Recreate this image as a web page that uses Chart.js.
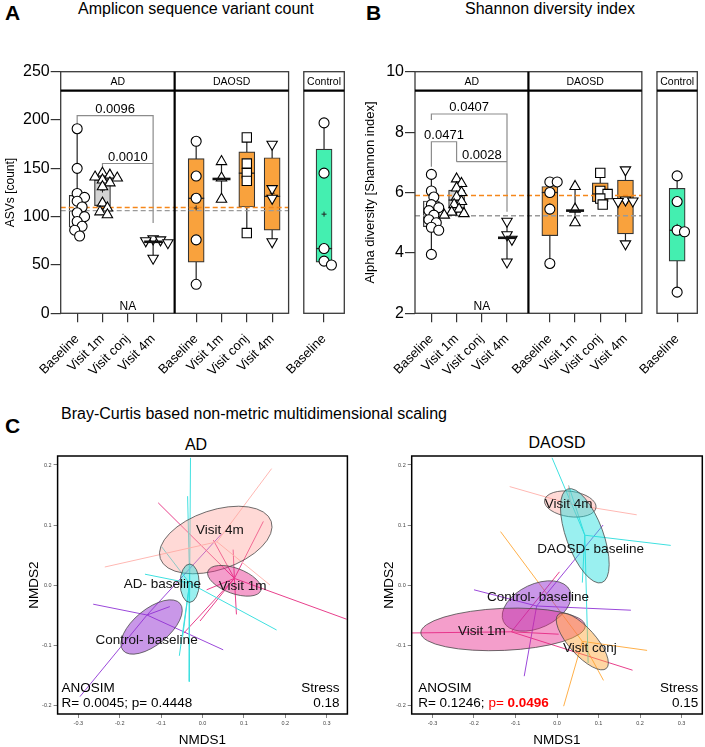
<!DOCTYPE html>
<html>
<head>
<meta charset="utf-8">
<title>ASV, Shannon and NMDS</title>
<script src="https://cdn.jsdelivr.net/npm/chart.js@4.4.1/dist/chart.umd.min.js"></script>
<style>
  body { margin: 0; background: #fff; }
  #fig { position: relative; width: 705px; height: 747px; overflow: hidden; font-family: 'Liberation Sans', Arial, sans-serif; color: #000; }
  #fig canvas { position: absolute; }
  .t { position: absolute; white-space: nowrap; line-height: 1; }
  .c { transform: translateX(-50%); }
  .letter { font-size: 21px; font-weight: bold; }
  .title { font-size: 16px; }
</style>
</head>
<body>
<div id="fig">
  <div class="t letter" style="left:5px;top:2px">A</div>
  <div class="t title" style="left:78px;top:1px">Amplicon sequence variant count</div>
  <div class="t letter" style="left:366px;top:2px">B</div>
  <div class="t title" style="left:465px;top:1px">Shannon diversity index</div>
  <div class="t letter" style="left:5px;top:415px">C</div>
  <div class="t title" style="left:61px;top:406px">Bray-Curtis based non-metric multidimensional scaling</div>
  <div class="t c" style="left:196px;top:437px;font-size:16px">AD</div>
  <div class="t c" style="left:557px;top:435px;font-size:16px">DAOSD</div>
  <canvas id="asv" width="352" height="380" style="left:0;top:0"></canvas>
  <canvas id="shannon" width="353" height="380" style="left:352px;top:0"></canvas>
  <canvas id="nmdsAD" width="352" height="317" style="left:0;top:430px"></canvas>
  <canvas id="nmdsDAOSD" width="353" height="317" style="left:352px;top:430px"></canvas>
</div>
<script>
// ---------- data: panels A and B ----------
const categories = ['Baseline', 'Visit 1m', 'Visit conj', 'Visit 4m', 'Baseline', 'Visit 1m', 'Visit conj', 'Visit 4m', 'Baseline'];
const facets = ['AD', 'DAOSD', 'Control'];

const asvTicks = [0, 50, 100, 150, 200, 250];
const asvPoints = [
  [191, 150, 124, 120, 116, 110, 104, 100, 95, 90, 86, 80],
  [145, 143, 141, 140, 138, 135, 131, 114, 109, 105, 102],
  [],
  [77, 76, 75, 73, 57],
  [178, 142, 119, 76, 30],
  [157, 140, 118],
  [182, 155, 145, 137, 83],
  [175, 129, 119, 74],
  [197, 145, 67, 54, 50]
];
// [q1, median, q3]; null quartiles = median line only
const asvBoxes = [[89, 106, 122], [111.5, 138, 143], null, [null, 74, null], [53, 119, 160], [null, 139, null], [110, 145, 167], [86, 121, 161], [53, 67, 170]];
const asvRefLines = [109.5, 106.2];
const asvBrackets = [
  { from: 0, to: 3, y: 204.6, yFrom: 196, yTo: 93.5, label: '0.0096' },
  { from: 1, to: 3, y: 155, yFrom: 147, yTo: 155, label: '0.0010' }
];

const shannonTicks = [2, 4, 6, 8, 10];
const shannonPoints = [
  [6.6, 6.05, 5.85, 5.6, 5.5, 5.4, 5.25, 5.1, 5.0, 4.85, 4.75, 3.95],
  [6.45, 6.3, 6.15, 6.0, 5.85, 5.7, 5.6, 5.45, 5.35, 5.3, 5.25],
  [],
  [5.05, 4.6, 4.45, 3.7],
  [6.35, 6.35, 6.0, 5.45, 3.65],
  [6.2, 5.45, 5.0],
  [6.65, 6.05, 5.95, 5.8, 5.6],
  [6.75, 5.75, 5.72, 5.7, 4.3],
  [6.55, 5.7, 4.75, 4.7, 2.7]
];
const shannonBoxes = [[4.87, 5.35, 5.72], [5.48, 5.75, 6.08], null, [null, 4.5, null], [4.57, 6.0, 6.2], [null, 5.4, null], [5.7, 5.95, 6.32], [4.63, 5.75, 6.41], [3.73, 4.75, 6.14]];
const shannonRefLines = [5.9, 5.23];
const shannonBrackets = [
  { from: 0, to: 3, y: 8.6, yFrom: 8.4, yTo: 5.36, label: '0.0407' },
  { from: 0, to: 1, y: 7.68, yFrom: 6.85, yTo: 7.02, label: '0.0471' },
  { from: 1, to: 3, y: 7.02, yFrom: 7.02, yTo: 7.02, label: '0.0028' }
];

// ---------- data: panel C ----------
const nmdsTicksX = [-0.3, -0.2, -0.1, 0, 0.1, 0.2, 0.3];
const nmdsTicksY = [-0.2, -0.1, 0, 0.1, 0.2];

const adGroups = ['Visit 4m', 'AD- baseline', 'Visit 1m', 'Control- baseline'];
const adCentres = [[0.032, 0.075], [-0.031, 0.003], [0.077, 0.007], [-0.123, -0.070]];
const adAxisU = [[0.134, 0.031], [0, 0.032], [0.064, -0.016], [0.069, 0.039]];
const adAxisV = [[0.023, -0.047], [0.023, 0], [-0.010, -0.020], [0.027, -0.023]];
const adHubs = [[0.035, 0.072], [-0.031, 0.003], [0.077, 0.011], [-0.134, -0.050]];
const adSamples = [
  [[0.167, 0.194], [-0.236, 0.030], [0.163, 0.0]],
  [[-0.029, 0.212], [-0.036, 0.148], [-0.032, -0.161], [-0.099, 0.064], [-0.139, 0.018], [0.179, -0.075], [-0.056, -0.118], [-0.048, -0.086]],
  [[-0.107, 0.137], [0.026, 0.075], [0.147, 0.106], [0.074, 0.059], [0.348, -0.057], [0.082, -0.049], [-0.006, -0.060], [-0.045, -0.080], [0.010, -0.008]],
  [[0.046, 0.085], [-0.264, -0.032], [0.050, -0.108], [-0.296, -0.186], [-0.079, -0.036]]
];
const adLabelAt = [[0.042, 0.092], [-0.097, 0.002], [0.097, -0.002], [-0.135, -0.092]];
const adAnosim = [0.0045, 0.4448];
const adStress = 0.18;

const daosdGroups = ['Visit 4m', 'DAOSD- baseline', 'Control- baseline', 'Visit 1m', 'Visit conj'];
const daosdCentres = [[0.032, 0.135], [0.067, 0.082], [-0.049, -0.035], [-0.130, -0.074], [0.061, -0.094]];
const daosdAxisU = [[0.062, -0.006], [0.041, -0.078], [0.080, 0.026], [0.198, 0.006], [0.058, -0.045]];
const daosdAxisV = [[-0.004, -0.021], [0.042, 0.010], [0.022, -0.033], [0.003, -0.035], [0.024, 0.015]];
const daosdHubs = [[0.032, 0.135], [0.067, 0.083], [-0.049, -0.035], [-0.110, -0.078], [0.061, -0.094]];
const daosdSamples = [
  [[-0.114, 0.164], [0.192, 0.117], [0.028, 0.166]],
  [[-0.012, 0.212], [0.274, 0.066], [0.075, -0.130], [0.028, 0.166], [0.061, 0.004]],
  [[-0.200, -0.008], [0.111, 0.100], [0.178, -0.042], [-0.079, -0.152]],
  [[-0.36, -0.080], [0.182, -0.142], [0.006, 0.022], [0.004, -0.082]],
  [[-0.136, 0.089], [0.217, -0.109], [0.112, -0.159], [0.016, -0.202]]
];
const daosdLabelAt = [[0.028, 0.135], [0.081, 0.059], [-0.046, -0.020], [-0.181, -0.077], [0.079, -0.106]];
const daosdAnosim = [0.1246, 0.0496];
const daosdStress = 0.15;

// ---------- layout & style ----------
const FONT = "'Liberation Sans', Arial, sans-serif";
Chart.defaults.font.family = FONT;
Chart.defaults.color = '#000';
Chart.defaults.animation = false;
Chart.defaults.responsive = false;
Chart.defaults.plugins.legend.display = false;
Chart.defaults.plugins.tooltip.enabled = false;

const catPos = [1, 2, 3, 4, 5.7, 6.7, 7.7, 8.7, 10.75];
const facetSpan = [[0.35, 4.85], [4.85, 9.35], [9.95, 11.55]];
const boxFill = ['#ffffff', '#d4d4d4', null, null, '#f9a23d', '#f9a23d', '#f9a23d', '#f9a23d', '#44efb0'];
const markerStyle = ['circle', 'triangle', 'rect', 'triangle'];
const markerRot = [0, 0, 0, 180];
const markerSize = [5, 6, 6.6, 6];
const refColors = ['#f5871a', '#9a9a9a'];

const colVisit4m = ['#ffb8b3', 'rgba(255,165,158,0.42)'];
const colCyan = ['#3fe0e0', 'rgba(30,222,222,0.45)'];
const colMagenta = ['#e8408c', 'rgba(230,40,140,0.45)'];
const colPurple = ['#9b48da', 'rgba(148,48,210,0.5)'];
const colOrange = ['#ffb04a', 'rgba(255,165,50,0.45)'];

// simple beeswarm offsets (in x units) so overlapping points spread sideways
function swarm(vals, pxPerUnit) {
  const placed = [];
  return vals.map(v => {
    const py = v * pxPerUnit;
    let off = 0;
    for (let k = 0; k < 14; k++) {
      const cand = (k % 2 ? 1 : -1) * Math.ceil(k / 2) * 2.5;
      if (placed.every(p => Math.hypot(p.x - cand, p.y - py) >= 6.5)) { off = cand; break; }
    }
    placed.push({ x: off, y: py });
    return off / 25.7;
  });
}

function boxChart(id, o) {
  const boxData = [], boxColors = [];
  o.boxes.forEach((b, i) => {
    if (b && b[0] !== null) {
      boxData.push({ x: catPos[i], y: [b[0], b[2]] });
      boxColors.push(boxFill[i]);
    }
  });
  const datasets = [{
    type: 'bar', data: boxData, backgroundColor: boxColors, borderColor: '#333',
    borderWidth: 1.2, borderSkipped: false, barThickness: 16, order: 3
  }];
  o.points.forEach((pts, i) => {
    if (!pts.length) return;
    const off = swarm(pts, o.pxPerUnit);
    datasets.push({
      type: 'scatter', order: 1,
      data: pts.map((v, j) => ({ x: catPos[i] + off[j], y: v })),
      pointStyle: markerStyle[i % 4], pointRotation: markerRot[i % 4], pointRadius: markerSize[i % 4],
      pointBackgroundColor: '#fff', pointBorderColor: '#000', pointBorderWidth: 1.1
    });
  });

  const deco = {
    id: 'deco',
    beforeDatasetsDraw(chart) {
      const { ctx, chartArea, scales: { x, y } } = chart;
      ctx.save();
      ctx.strokeStyle = '#222';
      ctx.lineWidth = 1.2;
      o.points.forEach((pts, i) => {
        if (!pts.length) return;
        const px = x.getPixelForValue(catPos[i]);
        ctx.beginPath();
        ctx.moveTo(px, y.getPixelForValue(Math.min(...pts)));
        ctx.lineTo(px, y.getPixelForValue(Math.max(...pts)));
        ctx.stroke();
      });
      ctx.strokeStyle = '#8c8c8c';
      ctx.fillStyle = '#000';
      ctx.font = '13px ' + FONT;
      ctx.textAlign = 'center';
      ctx.textBaseline = 'alphabetic';
      o.brackets.forEach(b => {
        const x1 = x.getPixelForValue(catPos[b.from]), x2 = x.getPixelForValue(catPos[b.to]);
        const yy = y.getPixelForValue(b.y);
        ctx.beginPath();
        ctx.moveTo(x1, y.getPixelForValue(b.yFrom));
        ctx.lineTo(x1, yy);
        ctx.lineTo(x2, yy);
        ctx.lineTo(x2, y.getPixelForValue(b.yTo));
        ctx.stroke();
        ctx.fillText(b.label, (x1 + x2) / 2, yy - 3);
      });
      ctx.font = '12px ' + FONT;
      ctx.textBaseline = 'middle';
      ctx.fillText('NA', x.getPixelForValue(catPos[2]), chartArea.bottom - 7);
      ctx.restore();
    },
    afterDatasetDraw(chart, args) {
      if (args.meta.type !== 'bar') return;
      const { ctx, scales: { x, y } } = chart;
      ctx.save();
      ctx.strokeStyle = '#222';
      ctx.lineWidth = 1.3;
      o.boxes.forEach((b, i) => {
        if (!b || b[0] === null) return;
        const px = x.getPixelForValue(catPos[i]), py = y.getPixelForValue(b[1]);
        ctx.beginPath(); ctx.moveTo(px - 8, py); ctx.lineTo(px + 8, py); ctx.stroke();
        const pts = o.points[i];
        const mean = pts.reduce((s, v) => s + v, 0) / pts.length;
        const my = y.getPixelForValue(mean);
        ctx.lineWidth = 1;
        ctx.beginPath();
        ctx.moveTo(px - 2.5, my); ctx.lineTo(px + 2.5, my);
        ctx.moveTo(px, my - 2.5); ctx.lineTo(px, my + 2.5);
        ctx.stroke();
        ctx.lineWidth = 1.3;
      });
      ctx.lineWidth = 1.4;
      ctx.setLineDash([5, 3]);
      o.refLines.forEach((v, k) => {
        ctx.strokeStyle = refColors[k];
        const py = y.getPixelForValue(v);
        ctx.beginPath();
        ctx.moveTo(x.getPixelForValue(facetSpan[0][0]), py);
        ctx.lineTo(x.getPixelForValue(facetSpan[1][1]), py);
        ctx.stroke();
      });
      ctx.restore();
    },
    afterDatasetsDraw(chart) {
      const { ctx, scales: { x, y } } = chart;
      ctx.save();
      ctx.strokeStyle = '#111';
      ctx.lineWidth = 2.6;
      o.boxes.forEach((b, i) => {
        if (!b || b[0] !== null) return;
        const px = x.getPixelForValue(catPos[i]), py = y.getPixelForValue(b[1]);
        ctx.beginPath(); ctx.moveTo(px - 9, py); ctx.lineTo(px + 9, py); ctx.stroke();
      });
      ctx.restore();
    },
    afterDraw(chart) {
      const { ctx, chartArea: { top, bottom }, scales: { x } } = chart;
      const X = v => x.getPixelForValue(v);
      const stripH = 19;
      ctx.save();
      ctx.strokeStyle = '#3a3a3a';
      ctx.lineWidth = 1.3;
      ctx.strokeRect(X(facetSpan[0][0]), top, X(facetSpan[1][1]) - X(facetSpan[0][0]), bottom - top);
      ctx.strokeRect(X(facetSpan[2][0]), top, X(facetSpan[2][1]) - X(facetSpan[2][0]), bottom - top);
      ctx.strokeStyle = '#000';
      ctx.lineWidth = 2.2;
      ctx.beginPath();
      ctx.moveTo(X(facetSpan[0][1]), top); ctx.lineTo(X(facetSpan[0][1]), bottom);
      ctx.moveTo(X(facetSpan[0][0]), top + stripH); ctx.lineTo(X(facetSpan[1][1]), top + stripH);
      ctx.moveTo(X(facetSpan[2][0]), top + stripH); ctx.lineTo(X(facetSpan[2][1]), top + stripH);
      ctx.stroke();
      ctx.fillStyle = '#000';
      ctx.font = '10.5px ' + FONT;
      ctx.textAlign = 'center';
      ctx.textBaseline = 'middle';
      facets.forEach((f, k) => {
        ctx.fillText(f, (X(facetSpan[k][0]) + X(facetSpan[k][1])) / 2, top + stripH / 2 + 0.5);
      });
      ctx.restore();
    }
  };

  return new Chart(document.getElementById(id), {
    type: 'scatter',
    data: { datasets },
    options: {
      layout: { padding: { left: o.padL, right: o.padR, top: 71.7, bottom: 0 } },
      scales: {
        x: {
          type: 'linear', offset: false, min: facetSpan[0][0], max: facetSpan[2][1],
          afterBuildTicks: s => { s.ticks = catPos.map(v => ({ value: v })); },
          ticks: { autoSkip: false, minRotation: 45, maxRotation: 45, font: { size: 13 }, color: '#000', padding: 9,
                   callback: (v, i) => categories[i] },
          grid: { display: true, offset: false, drawOnChartArea: false, drawTicks: true, tickLength: 9, color: '#333', lineWidth: 1.2 },
          border: { display: false },
          afterFit: s => { s.height = 66.7; s.paddingLeft = 0; s.paddingRight = 0; }
        },
        y: {
          min: o.ticks[0], max: o.ticks[o.ticks.length - 1],
          afterBuildTicks: s => { s.ticks = o.ticks.map(v => ({ value: v })); },
          ticks: { font: { size: 16 }, color: '#000', padding: 1 },
          grid: { display: true, drawOnChartArea: false, drawTicks: true, tickLength: 10, color: '#333', lineWidth: 1.2 },
          border: { display: false },
          title: { display: true, text: o.yTitle, font: { size: o.yTitleSize, lineHeight: 1 }, padding: 0, color: '#000' },
          afterFit: s => { s.width = o.yW; }
        }
      }
    },
    plugins: [deco]
  });
}

function nmdsChart(id, o) {
  const datasets = o.groups.map((n, g) => ({
    type: 'scatter', showLine: true, spanGaps: false, pointRadius: 0, borderWidth: 1,
    borderColor: o.colors[g][0], tension: 0,
    data: o.samples[g].flatMap(p => [{ x: o.hubs[g][0], y: o.hubs[g][1] }, { x: p[0], y: p[1] }, { x: null, y: null }])
  }));

  const deco = {
    id: 'nmdsdeco',
    afterDatasetsDraw(chart) {
      const { ctx, chartArea: a, scales: { x, y } } = chart;
      ctx.save();
      ctx.beginPath();
      ctx.rect(a.left, a.top, a.width, a.height);
      ctx.clip();
      o.groups.forEach((n, g) => {
        const [cx, cy] = o.centres[g], [ux, uy] = o.axisU[g], [vx, vy] = o.axisV[g];
        const px = x.getPixelForValue(cx), py = y.getPixelForValue(cy);
        ctx.save();
        ctx.translate(px, py);
        ctx.transform(x.getPixelForValue(cx + ux) - px, y.getPixelForValue(cy + uy) - py,
                      x.getPixelForValue(cx + vx) - px, y.getPixelForValue(cy + vy) - py, 0, 0);
        ctx.beginPath();
        ctx.arc(0, 0, 1, 0, Math.PI * 2);
        ctx.restore();
        ctx.fillStyle = o.colors[g][1];
        ctx.fill();
        ctx.strokeStyle = '#4a4a4a';
        ctx.lineWidth = 0.8;
        ctx.stroke();
      });
      ctx.fillStyle = '#111';
      ctx.font = '13.5px ' + FONT;
      ctx.textAlign = 'center';
      ctx.textBaseline = 'middle';
      o.groups.forEach((n, g) => {
        ctx.fillText(n, x.getPixelForValue(o.labelAt[g][0]), y.getPixelForValue(o.labelAt[g][1]));
      });
      ctx.restore();
    },
    afterDraw(chart) {
      const { ctx, chartArea: a } = chart;
      ctx.save();
      ctx.strokeStyle = '#000';
      ctx.lineWidth = 1.5;
      ctx.strokeRect(a.left, a.top, a.width, a.height);
      const f = '13.5px ' + FONT;
      ctx.font = f;
      ctx.fillStyle = '#000';
      ctx.textBaseline = 'middle';
      ctx.textAlign = 'left';
      ctx.fillText('ANOSIM', a.left + o.inL, a.bottom - 26);
      let tx = a.left + o.inL;
      const ty = a.bottom - 11;
      const rText = 'R= ' + o.anosim[0].toFixed(4) + '; ';
      ctx.fillText(rText, tx, ty);
      tx += ctx.measureText(rText).width;
      const sig = o.anosim[1] < 0.05;
      if (sig) ctx.fillStyle = '#ff0000';
      ctx.fillText('p= ', tx, ty);
      tx += ctx.measureText('p= ').width;
      if (sig) ctx.font = 'bold ' + f;
      ctx.fillText(o.anosim[1].toFixed(4), tx, ty);
      ctx.font = f;
      ctx.fillStyle = '#000';
      ctx.textAlign = 'right';
      ctx.fillText('Stress', a.right - o.inR, a.bottom - 26);
      ctx.fillText(o.stress.toFixed(2), a.right - o.inR, a.bottom - 11);
      ctx.restore();
    }
  };

  const axisCommon = {
    type: 'linear',
    ticks: { font: { size: 5.5 }, color: '#444', padding: 2, autoSkip: false, callback: v => v.toFixed(1) },
    grid: { display: true, drawOnChartArea: false, drawTicks: true, tickLength: 4, color: '#666', lineWidth: 0.8 },
    border: { display: false }
  };

  return new Chart(document.getElementById(id), {
    type: 'scatter',
    data: { datasets },
    options: {
      layout: { padding: { left: o.padL, right: o.padR, top: 26, bottom: 0 } },
      scales: {
        x: Object.assign({}, axisCommon, {
          min: -0.35, max: 0.35,
          afterBuildTicks: s => { s.ticks = nmdsTicksX.map(v => ({ value: v })); },
          title: { display: true, text: 'NMDS1', font: { size: 13.5, lineHeight: 1 }, padding: 0, color: '#000' },
          afterFit: s => { s.height = 33; s.paddingLeft = 0; s.paddingRight = 0; }
        }),
        y: Object.assign({}, axisCommon, {
          min: -0.215, max: 0.215,
          afterBuildTicks: s => { s.ticks = nmdsTicksY.map(v => ({ value: v })); },
          title: { display: true, text: 'NMDS2', font: { size: 13.5, lineHeight: 1 }, padding: 0, color: '#000' },
          afterFit: s => { s.width = o.yW; s.paddingTop = 0; s.paddingBottom = 0; }
        })
      }
    },
    plugins: [deco]
  });
}

boxChart('asv', {
  points: asvPoints, boxes: asvBoxes, refLines: asvRefLines, brackets: asvBrackets, ticks: asvTicks,
  yTitle: 'ASVs [count]', yTitleSize: 12, pxPerUnit: 241.6 / 250, padL: 4.5, yW: 56.2, padR: 3.3
});
boxChart('shannon', {
  points: shannonPoints, boxes: shannonBoxes, refLines: shannonRefLines, brackets: shannonBrackets, ticks: shannonTicks,
  yTitle: 'Alpha diversity [Shannon index]', yTitleSize: 13, pxPerUnit: 241.6 / 8, padL: 12.2, yW: 50.8, padR: 2
});
nmdsChart('nmdsAD', {
  groups: adGroups, centres: adCentres, axisU: adAxisU, axisV: adAxisV, hubs: adHubs, samples: adSamples,
  labelAt: adLabelAt, anosim: adAnosim, stress: adStress,
  colors: [colVisit4m, colCyan, colMagenta, colPurple],
  padL: 27.5, yW: 30.1, padR: 4.6, inL: 4, inR: 8
});
nmdsChart('nmdsDAOSD', {
  groups: daosdGroups, centres: daosdCentres, axisU: daosdAxisU, axisV: daosdAxisV, hubs: daosdHubs, samples: daosdSamples,
  labelAt: daosdLabelAt, anosim: daosdAnosim, stress: daosdStress,
  colors: [colVisit4m, colCyan, colPurple, colMagenta, colOrange],
  padL: 30.5, yW: 29.2, padR: 2.7, inL: 6.5, inR: 4
});
</script>
</body>
</html>
